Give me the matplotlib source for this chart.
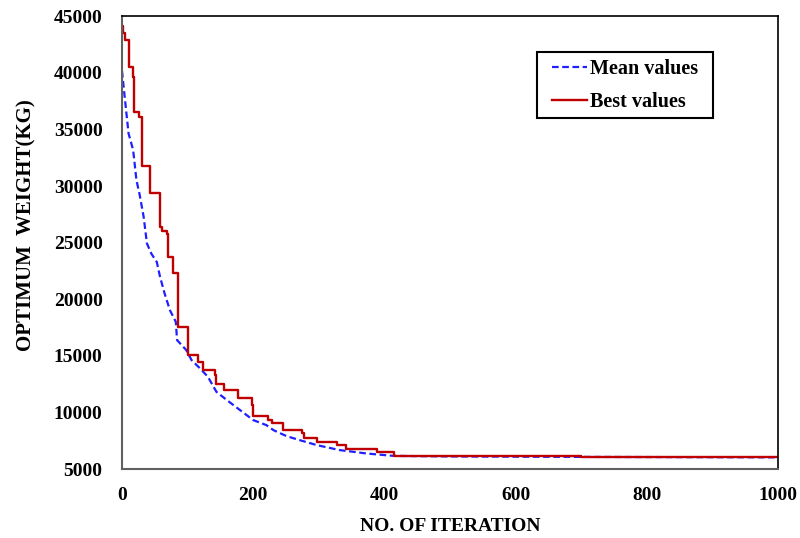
import matplotlib
matplotlib.use("Agg")
import matplotlib.pyplot as plt
import matplotlib.patheffects as pe
from matplotlib import font_manager
from matplotlib.patches import Rectangle

# values
best_iter = [0, 2, 5, 10, 17, 19, 26, 30, 42, 58, 61, 68, 70, 77, 85, 101, 116, 124, 142,
             144, 155, 177, 198, 200, 222, 228, 245, 275, 278, 297, 327, 342, 388, 414,
             500, 700, 850, 1000]
best_val = [44140, 43500, 42880, 40520, 39640, 36550, 36100, 31780, 29400, 26400, 26000,
            25800, 23750, 22280, 17560, 15070, 14470, 13740, 13300, 12480, 11980, 11240,
            10650, 9680, 9330, 9040, 8440, 8150, 7710, 7410, 7120, 6740, 6530, 6170,
            6120, 6080, 6050, 6040]

mean_iter = [0, 3, 10, 17, 22, 27, 33, 38, 45, 53, 58, 65, 73, 82, 84, 98, 106, 119, 131,
             144, 160, 180, 200, 220, 231, 251, 271, 297, 332, 373, 414, 500, 700, 1000]
mean_val = [40170, 38470, 34640, 33170, 30520, 29200, 27280, 24930, 24000, 23300, 21980,
            20500, 19040, 18010, 16390, 15510, 14630, 13890, 13150, 11820, 11090, 10210,
            9330, 8890, 8440, 7910, 7560, 7120, 6680, 6380, 6170, 6120, 6080, 6040]

xticks = [0, 200, 400, 600, 800, 1000]
yticks = [5000, 10000, 15000, 20000, 25000, 30000, 35000, 40000, 45000]

plt.rcParams['font.family'] = ['Liberation Serif', 'DejaVu Serif']
plt.rcParams['font.weight'] = 'bold'

# fake the bold face in case only the regular serif file is available
bold_path = font_manager.findfont(font_manager.FontProperties(family='Liberation Serif', weight='bold'))
fake_bold = 'Bold' not in bold_path
fx = [pe.withStroke(linewidth=0.9, foreground='black')] if fake_bold else []

fs = 14

fig = plt.figure(figsize=(8, 5.38), dpi=100)
ax = fig.add_axes([0.1525, 0.128, 0.82, 0.842])

ax.plot(mean_iter, mean_val, color='#1f1fff', lw=1.6, dashes=(3, 1.6), label='Mean values')
ax.plot(best_iter, best_val, color='#c00000', lw=1.7, drawstyle='steps-post', label='Best values')

ax.set_xlim(0, 1000)
ax.set_ylim(5000, 45000)
ax.set_xticks(xticks)
ax.set_yticks(yticks)
ax.tick_params(length=0, labelsize=fs)
ax.tick_params(axis='y', pad=14)
ax.tick_params(axis='x', pad=13)
for lab in ax.get_xticklabels() + ax.get_yticklabels():
    lab.set_fontweight('bold')
    lab.set_path_effects(fx)

for s in ['left', 'bottom']:
    ax.spines[s].set_color('#606060')
    ax.spines[s].set_linewidth(1.5)
for s in ['top', 'right']:
    ax.spines[s].set_color('black')
    ax.spines[s].set_linewidth(1.2)

xl = ax.set_xlabel('NO. OF ITERATION', fontsize=fs, fontweight='bold', labelpad=10)
yl = ax.set_ylabel('OPTIMUM  WEIGHT(KG)', fontsize=15, fontweight='bold')
ax.yaxis.set_label_coords(-0.13, 0.539)
xl.set_path_effects(fx)
yl.set_path_effects(fx)

# legend without its own frame, box drawn separately to get the reference's padding
leg = ax.legend(loc='upper left', bbox_to_anchor=(0.6555, 0.905), fontsize=14.5,
                frameon=False, handlelength=1.74, borderpad=0, labelspacing=0.62,
                handletextpad=0.15, borderaxespad=0)
for t in leg.get_texts():
    t.set_fontweight('bold')
    t.set_path_effects(fx)
ax.add_patch(Rectangle((0.6326, 0.7748), 0.2684, 0.1457, transform=ax.transAxes,
                       fill=False, edgecolor='black', lw=1.5, zorder=5))

fig.savefig('out.png', dpi=100)
